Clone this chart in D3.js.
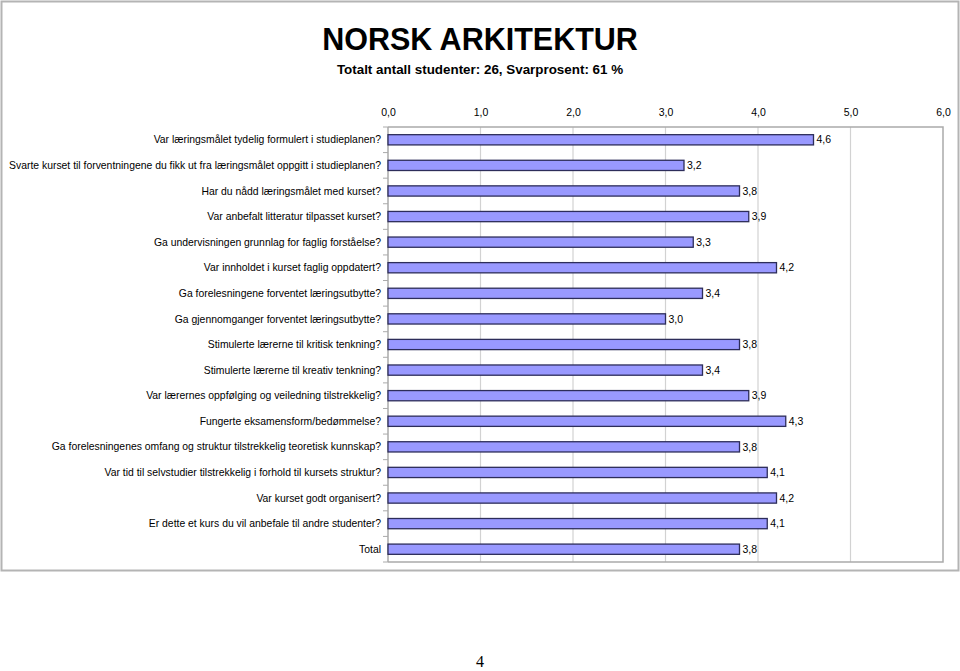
<!DOCTYPE html>
<html>
<head>
<meta charset="utf-8">
<script src="https://cdn.jsdelivr.net/npm/d3@7/dist/d3.min.js"></script>
<style>
  html, body { margin: 0; padding: 0; background: #fff; }
  svg { display: block; }
  text { font-family: "Liberation Sans", Arial, sans-serif; fill: #000; }
</style>
</head>
<body>
<script>
const title = "NORSK ARKITEKTUR";
const subtitle = "Totalt antall studenter: 26, Svarprosent: 61 %";
const pageNumber = "4";

const categories = [
  "Var læringsmålet tydelig formulert i studieplanen?",
  "Svarte kurset til forventningene du fikk ut fra læringsmålet oppgitt i studieplanen?",
  "Har du nådd læringsmålet med kurset?",
  "Var anbefalt litteratur tilpasset kurset?",
  "Ga undervisningen grunnlag for faglig forståelse?",
  "Var innholdet i kurset faglig oppdatert?",
  "Ga forelesningene forventet læringsutbytte?",
  "Ga gjennomganger forventet læringsutbytte?",
  "Stimulerte lærerne til kritisk tenkning?",
  "Stimulerte lærerne til kreativ tenkning?",
  "Var lærernes oppfølging og veiledning tilstrekkelig?",
  "Fungerte eksamensform/bedømmelse?",
  "Ga forelesningenes omfang og struktur tilstrekkelig teoretisk kunnskap?",
  "Var tid til selvstudier tilstrekkelig i forhold til kursets struktur?",
  "Var kurset godt organisert?",
  "Er dette et kurs du vil anbefale til andre studenter?",
  "Total"
];
const values = [4.6, 3.2, 3.8, 3.9, 3.3, 4.2, 3.4, 3.0, 3.8, 3.4, 3.9, 4.3, 3.8, 4.1, 4.2, 4.1, 3.8];
const tickValues = [0, 1, 2, 3, 4, 5, 6];

const W = 960, H = 671;
const fmt = v => v.toFixed(1).replace(".", ",");

const svg = d3.select("body").append("svg").attr("width", W).attr("height", H);

// outer chart frame
svg.append("rect").attr("x", 1.5).attr("y", 1.5).attr("width", 957).attr("height", 569)
  .attr("fill", "#fff").attr("stroke", "#b4b4b4").attr("stroke-width", 2);

const plot = { left: 388, right: 943, top: 127, bottom: 562 };
const x = d3.scaleLinear().domain([0, 6]).range([plot.left, plot.right]);
const y = d3.scaleBand().domain(categories).range([plot.top, plot.bottom]).paddingInner(0.6).paddingOuter(0.3);
const yb = d3.scaleBand().domain(categories).range([plot.top, plot.bottom]);

// title
svg.append("text").attr("x", 480).attr("y", 50).attr("text-anchor", "middle")
  .style("font-size", "30.5px").style("font-weight", "bold").text(title);
svg.append("text").attr("x", 480).attr("y", 74).attr("text-anchor", "middle")
  .style("font-size", "13.4px").style("font-weight", "bold").text(subtitle);

// gridlines
svg.append("g").selectAll("line").data(tickValues.slice(1, -1)).join("line")
  .attr("x1", d => x(d)).attr("x2", d => x(d))
  .attr("y1", plot.top).attr("y2", plot.bottom)
  .attr("stroke", "#d2d2d2").attr("stroke-width", 1.2);

// plot border (top, right, bottom)
svg.append("path")
  .attr("d", `M${plot.left},${plot.top}H${plot.right}V${plot.bottom}H${plot.left}`)
  .attr("fill", "none").attr("stroke", "#aaaaaa").attr("stroke-width", 1.5);

// top axis labels
const xAxis = d3.axisTop(x).tickValues(tickValues).tickFormat(fmt).tickSize(0).tickPadding(0);
const gx = svg.append("g").attr("transform", `translate(0,${116})`).call(xAxis);
gx.select(".domain").remove();
gx.selectAll("text").style("font-size", "10.5px").attr("dy", 0).style("font-family", "Liberation Sans, Arial, sans-serif");

// left axis line and ticks at category boundaries
svg.append("line").attr("x1", plot.left).attr("x2", plot.left)
  .attr("y1", plot.top).attr("y2", plot.bottom).attr("stroke", "#aaaaaa").attr("stroke-width", 1.5);
const bounds = categories.map(c => yb(c)).concat([plot.bottom]);
svg.append("g").selectAll("line").data(bounds).join("line")
  .attr("x1", plot.left - 5).attr("x2", plot.left)
  .attr("y1", d => d).attr("y2", d => d)
  .attr("stroke", "#aaaaaa").attr("stroke-width", 1);

// category labels
svg.append("g").selectAll("text").data(categories).join("text")
  .attr("x", 381).attr("y", d => yb(d) + yb.bandwidth() / 2)
  .attr("dy", "0.35em").attr("text-anchor", "end")
  .style("font-size", "10.4px").text(d => d);

// bars
const bars = categories.map((c, i) => ({ c, v: values[i] }));
svg.append("g").selectAll("rect").data(bars).join("rect")
  .attr("x", x(0)).attr("y", d => y(d.c))
  .attr("width", d => x(d.v) - x(0)).attr("height", y.bandwidth())
  .attr("fill", "#9999ff").attr("stroke", "#2d2d5a").attr("stroke-width", 1.3);

// value labels
svg.append("g").selectAll("text").data(bars).join("text")
  .attr("x", d => x(d.v) + 3).attr("y", d => y(d.c) + y.bandwidth() / 2)
  .attr("dy", "0.35em").style("font-size", "10.5px").text(d => fmt(d.v));

// page number
svg.append("text").attr("x", 480).attr("y", 667).attr("text-anchor", "middle")
  .style("font-family", "Liberation Serif, Times New Roman, serif").style("font-size", "16px").text(pageNumber);
</script>
</body>
</html>
